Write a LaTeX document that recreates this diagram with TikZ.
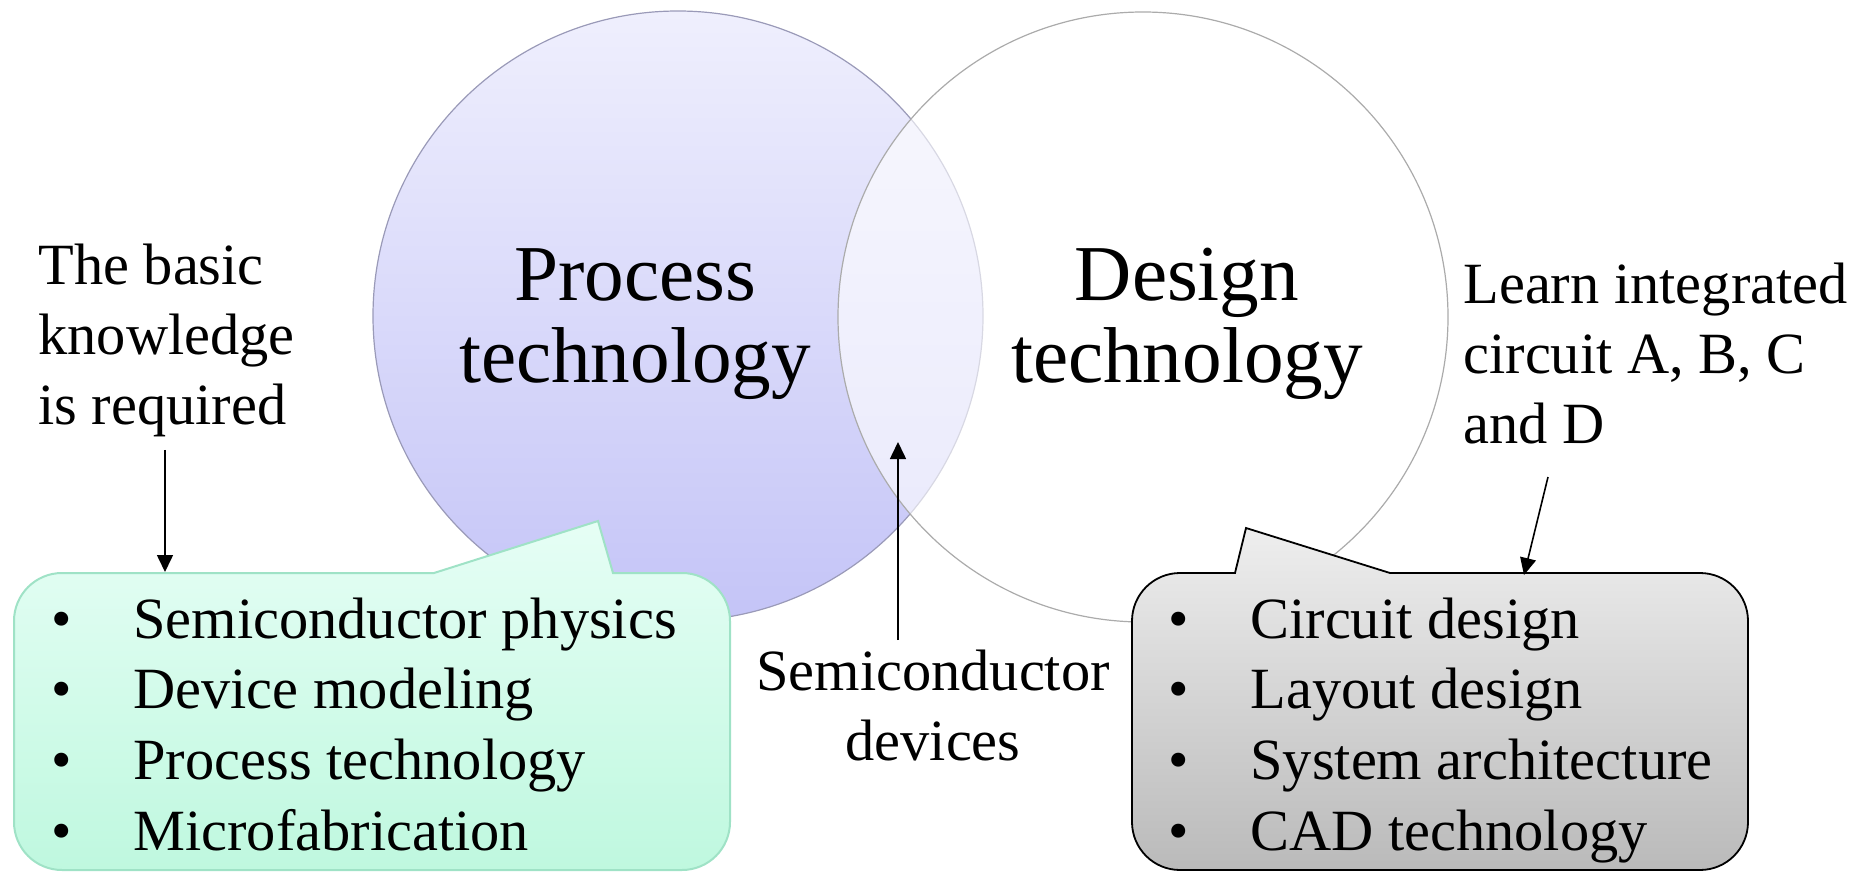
\documentclass[tikz,border=0pt]{standalone}
\usepackage{fontspec}
\setmainfont{Liberation Serif}
\usetikzlibrary{arrows.meta}

\definecolor{procTop}{HTML}{EFEFFD}
\definecolor{procBot}{HTML}{C4C4F7}
\definecolor{procLine}{HTML}{9A9AB8}
\definecolor{desLine}{HTML}{ABABAB}
\definecolor{greenTop}{HTML}{E6FEF5}
\definecolor{greenBot}{HTML}{BFF8DF}
\definecolor{greenLine}{HTML}{9FE2C6}
\definecolor{grayTop}{HTML}{EEEEEE}
\definecolor{grayBot}{HTML}{BABABA}

\newcommand{\bulletitem}[1]{\makebox[41pt][l]{\textbullet}#1}

\tikzset{
  bigtext/.style={font=\fontsize{39.6}{41}\selectfont, align=center, inner sep=0pt},
  smalltext/.style={font=\fontsize{29.2}{35}\selectfont, align=left, inner sep=0pt},
  listtext/.style={font=\fontsize{29.2}{35.3}\selectfont, align=left, inner sep=0pt, anchor=base west},
  pointer/.style={-{Triangle[length=8.5pt,width=8pt]}, line width=0.8pt},
}

\begin{document}
\begin{tikzpicture}[x=0.5pt,y=-0.5pt]
  \useasboundingbox (0,0) rectangle (1870,873);

  % the two fields
  \shade[top color=procTop, bottom color=procBot, draw=procLine, line width=0.6pt]
    (678,316) circle (305);
  \fill[white, opacity=0.62] (1143,317) circle (305);
  \draw[desLine, line width=0.6pt] (1143,317) circle (305);

  \node[bigtext, anchor=base] (process) at (635,382) {Process\\technology};
  \node[bigtext, anchor=base] (design) at (1187,382) {Design\\technology};

  % callouts
  \shade[top color=greenTop, bottom color=greenBot, draw=greenLine, line width=1pt]
    (14,621) arc[start angle=180, end angle=270, radius=48]
    -- (434,573) -- (598,521) -- (613,573) -- (682,573)
    arc[start angle=270, end angle=360, radius=48] -- (730,822)
    arc[start angle=0, end angle=90, radius=48] -- (62,870)
    arc[start angle=90, end angle=180, radius=48] -- cycle;
  \shade[top color=grayTop, bottom color=grayBot, draw=black, line width=0.9pt]
    (1132,621) arc[start angle=180, end angle=270, radius=48]
    -- (1235,573) -- (1246,528) -- (1390,573) -- (1700,573)
    arc[start angle=270, end angle=360, radius=48] -- (1748,822)
    arc[start angle=0, end angle=90, radius=48] -- (1180,870)
    arc[start angle=90, end angle=180, radius=48] -- cycle;

  \node[listtext] (physlist) at (51,850)
    {\bulletitem{Semiconductor physics}\\\bulletitem{Device modeling}\\
     \bulletitem{Process technology}\\\bulletitem{Microfabrication}};
  \node[listtext] (designlist) at (1168,850)
    {\bulletitem{Circuit design}\\\bulletitem{Layout design}\\
     \bulletitem{System architecture}\\\bulletitem{CAD technology}};

  % side notes
  \node[smalltext, anchor=base west] (basic) at (38,424) {The basic\\knowledge\\is required};
  \node[smalltext, anchor=base west] (learn) at (1463,443) {Learn integrated\\circuit A, B, C\\and D};
  \node[smalltext, align=center, anchor=base] (semi) at (933,760) {Semiconductor\\devices};

  \coordinate (greentop) at (165,572);
  \coordinate (graytop) at (1524,575);
  \coordinate (overlap) at (898,442);
  \coordinate (learnfoot) at (1548,477);
  \coordinate (semitop) at ([yshift=4.5pt]semi.north);

  \draw[pointer] ([yshift=-6.5pt]basic.south -| greentop) -- (greentop);
  \draw[pointer] (learnfoot) -- (graytop);
  \draw[pointer] (semitop -| overlap) -- (overlap);
\end{tikzpicture}
\end{document}
